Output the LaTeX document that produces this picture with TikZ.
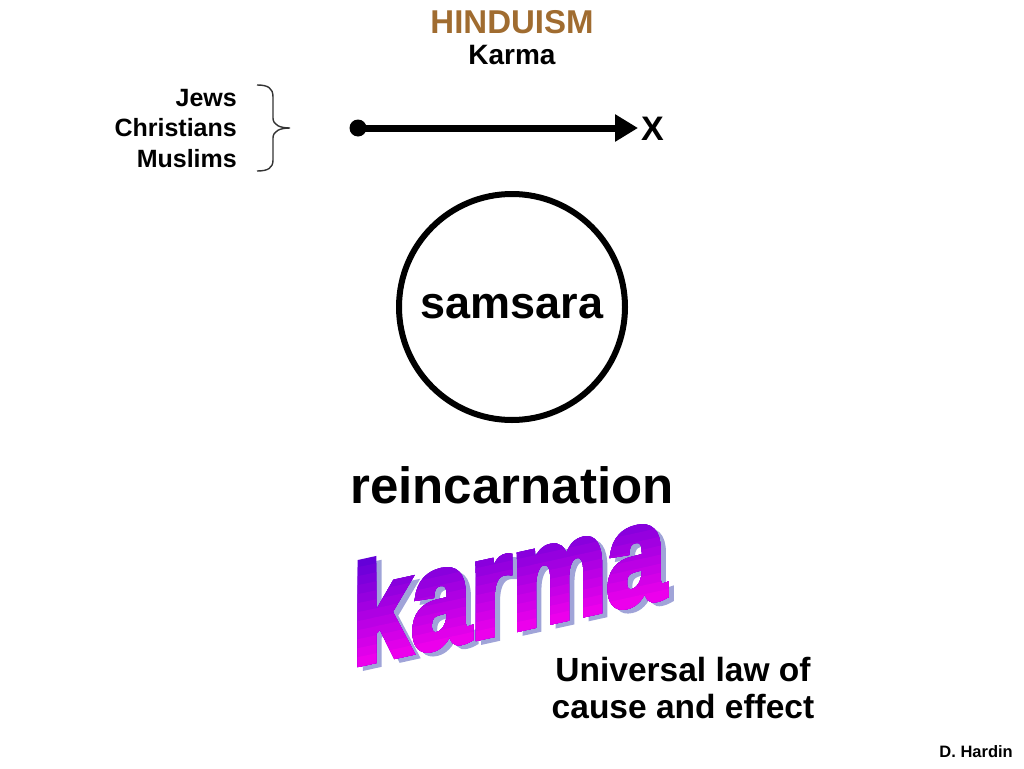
\documentclass[tikz,border=0pt]{standalone}
\usepackage{fontspec}
\setmainfont{Liberation Sans}
\newfontfamily\karmafont{Liberation Sans Bold}[FakeBold=4]
\usetikzlibrary{arrows.meta}
\definecolor{hbrown}{RGB}{160,108,48}
\definecolor{kshadow}{RGB}{160,164,216}
\definecolor{ktop}{RGB}{100,0,216}
\definecolor{kbot}{RGB}{236,0,236}
\newcommand{\fsz}[1]{\fontsize{#1}{#1}\selectfont\bfseries}
\newcommand{\ksz}{\fontsize{140}{140}\karmafont}
\tikzset{
  lbl/.style={inner sep=0pt, text=black},
  thickline/.style={line width=7pt},
  wordart/.style={inner sep=0pt, font=\ksz, anchor=base, transform shape},
}
\begin{document}
\begin{tikzpicture}[x=1pt,y=-1pt]
\useasboundingbox (0,0) rectangle (1024,768);
% titles
\node[lbl, text=hbrown, font=\fsz{33}] (title) at (512,22) {HINDUISM};
\node[lbl, font=\fsz{28}] (sub) at (512,55) {Karma};
% left group
\node[lbl, font=\fsz{25}, anchor=east] (jews) at (237,98) {Jews};
\node[lbl, font=\fsz{25}, anchor=east] (chr) at (237,128) {Christians};
\node[lbl, font=\fsz{25}, anchor=east] (mus) at (237,159) {Muslims};
% brace
\coordinate (btop) at (257,85);
\coordinate (bbot) at (257,171);
\coordinate (btip) at (290,128);
\draw[line width=1.4pt, black!80] (btop) .. controls (268,85) and (273,88) .. (273,97)
  -- (273,118) .. controls (273,125) and (280,128) .. (btip)
  (btip) .. controls (280,128) and (273,131) .. (273,138)
  -- (273,160) .. controls (273,168) and (268,171) .. (bbot);
% arrow line
\node[circle, fill=black, inner sep=0pt, minimum size=17pt] (dot) at (358,128) {};
\coordinate (tip) at (638,128);
\draw[thickline, -{Triangle[length=23pt,width=26pt]}] (dot.center) -- (tip);
\node[lbl, font=\fsz{34}, anchor=west] (xx) at (641,129) {X};
% samsara circle
\node[circle, draw=black, line width=6pt, minimum size=226pt, inner sep=0pt, font=\fsz{45}] (samsara) at (512,307) {samsara};
% reincarnation
\node[lbl, font=\fsz{51}] (reinc) at (512,485) {reincarnation};
% karma word art
\begin{scope}[shift={(509,631)}, yslant=0.22, xscale=0.76]
  \node[wordart, text=kshadow] (kshad) at (7,5) {karma};
  \foreach \i in {0,...,11}{
    \pgfmathsetmacro{\pc}{100-\i*100/11}
    \begin{scope}
      \clip (-400,{-106+\i*9}) rectangle (400,40);
      \node[wordart, text=ktop!\pc!kbot] (karma\i) at (0,0) {karma};
    \end{scope}
  }
\end{scope}
% universal law
\node[lbl, font=\fsz{33.5}, align=center] (law) at (683,688) {Universal law of\\[3pt]cause and effect};
% author
\node[lbl, font=\fsz{16.5}, anchor=east] (auth) at (1013,752) {D. Hardin};
\end{tikzpicture}
\end{document}
